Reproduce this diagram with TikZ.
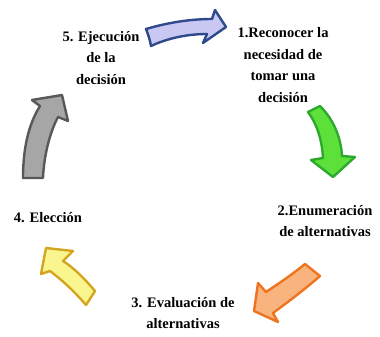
\documentclass[tikz,border=0pt]{standalone}
\usepackage{fontspec}
\setmainfont{Liberation Serif}
\begin{document}
\begin{tikzpicture}[x=1pt,y=-1pt,
  lbl/.style={font=\fontsize{14.5}{21.5}\selectfont\bfseries, align=center, inner sep=0pt, text=black},
  blockarrow/.style={line width=2.4pt, line join=round}]
\useasboundingbox (0,0) rectangle (380,337);
\definecolor{pfill}{HTML}{C8C8F2}\definecolor{pline}{HTML}{2F4A8C}
\definecolor{gfill}{HTML}{5EE03A}\definecolor{gline}{HTML}{2DAA2D}
\definecolor{ofill}{HTML}{F8B37E}\definecolor{oline}{HTML}{EE7420}
\definecolor{yfill}{HTML}{FAF68F}\definecolor{yline}{HTML}{D4A51E}
\definecolor{kfill}{HTML}{A6A6A6}\definecolor{kline}{HTML}{585858}

% texts
\node[lbl] (t5) at (101,58) {5. Ejecución\\de la\\decisión};
\node[lbl] (t1) at (283,65) {1.Reconocer la\\necesidad de\\tomar una\\decisión};
\node[lbl] (t2) at (325,221) {2.Enumeración\\de alternativas};
\node[lbl] (t3) at (183,313) {3. Evaluación de\\alternativas};
\node[lbl] (t4) at (48,218) {4. Elección};

% arrow 5 -> 1 (purple)
\draw[blockarrow, draw=pline, fill=pfill]
  (146,29) .. controls (170,22) and (192,19) .. (212,19) -- (215,10) -- (226,27)
  -- (203,43) -- (207,34) .. controls (188,34) and (168,38) .. (151,46)
  .. controls (150,40) and (148,34) .. cycle;

% arrow 1 -> 2 (green)
\draw[blockarrow, draw=gline, fill=gfill]
  (320,106) .. controls (334,120) and (341,138) .. (342,156) -- (355,157) -- (333,177)
  -- (311,160) -- (323,158) .. controls (322,140) and (317,124) .. (308,112) -- cycle;

% arrow 2 -> 3 (orange)
\draw[blockarrow, draw=oline, fill=ofill]
  (305,264) .. controls (290,276) and (278,284) .. (266,292) -- (258,283) -- (254,311)
  -- (278,322) -- (273,313) .. controls (288,302) and (304,290) .. (320,276) -- cycle;

% arrow 3 -> 4 (yellow)
\draw[blockarrow, draw=yline, fill=yfill]
  (95,291) .. controls (84,278) and (74,268) .. (63,261) -- (73,251) -- (46,248)
  -- (41,274) -- (50,271) .. controls (62,280) and (75,292) .. (86,305) -- cycle;

% arrow 4 -> 5 (gray)
\draw[blockarrow, draw=kline, fill=kfill]
  (43,178) .. controls (44,155) and (50,132) .. (58,117) -- (68,121) -- (62,95)
  -- (32,100) -- (40,106) .. controls (28,125) and (23,150) .. (23,178) -- cycle;
\end{tikzpicture}
\end{document}
